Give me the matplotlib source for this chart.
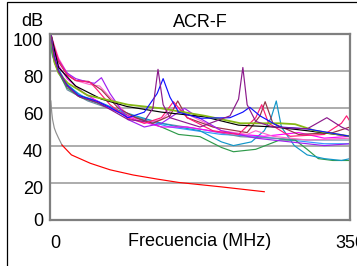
import matplotlib.pyplot as plt
from matplotlib.patches import Rectangle
from matplotlib.transforms import ScaledTranslation

plt.rcParams['font.family'] = ['Liberation Sans', 'DejaVu Sans']

# ACR-F (dB) vs frequency (MHz)
f_grey = [1, 2, 3, 5, 7, 10, 14]
v_grey = [64, 58, 54, 49.5, 47, 44, 40.3]

f_red = [14, 25, 47, 70, 97, 125, 150, 200, 250]
v_red = [40.3, 35, 30.5, 27, 24.2, 22, 20.2, 17.8, 15.2]

f_olive = [1, 5, 10, 21, 44, 91, 130, 181, 222, 268, 286, 309, 350]
v_olive = [100, 85, 79, 73.5, 67, 62, 60, 56, 52, 52, 51.5, 48, 45]

f_black = [1, 10, 30, 60, 90, 130, 180, 220, 262, 300, 350]
v_black = [100, 82, 72, 65, 61, 58, 55.5, 51, 50, 48, 45]

f_blue = [1, 5, 10, 20, 33, 56, 72, 91, 110, 125, 132, 140, 150, 175, 210, 225, 233, 245, 268, 300, 350]
v_blue = [100, 88, 80, 72.5, 67, 63.6, 60, 55, 58, 68, 76, 66, 58, 54.7, 55, 58, 60.6, 56, 50, 49, 45]

f_purple = [1, 5, 10, 20, 33, 56, 72, 91, 110, 120, 126, 132, 140, 175, 210, 220, 225, 230, 240, 260, 300, 323, 340, 350]
v_purple = [100, 87, 80, 72, 66.5, 63, 59, 54, 53, 60, 81, 62, 55, 50, 56, 65, 82, 62, 53, 50, 49, 55, 50, 48]

f_violet = [1, 5, 10, 20, 30, 45, 52, 60, 70, 91, 110, 130, 150, 157, 170, 200, 240, 280, 320, 350]
v_violet = [100, 92, 86, 79, 76, 74, 73.5, 76.5, 68, 54, 50, 52, 58, 60, 56, 48, 44, 42, 40, 41]

f_pink = [1, 5, 10, 20, 30, 40, 47, 55, 70, 90, 110, 130, 144, 160, 190, 220, 240, 247, 255, 280, 320, 340, 346, 350]
v_pink = [100, 93, 86, 78, 75, 74.5, 74, 70, 62, 55, 52, 55, 63.6, 55, 48, 46, 55, 62, 52, 45, 46, 52, 56, 53]

f_rose = [1, 5, 10, 20, 30, 45, 58, 70, 90, 110, 130, 146, 160, 200, 230, 240, 260, 300, 350]
v_rose = [100, 94, 87, 79, 75, 73, 72, 66, 57, 52, 54, 61, 57, 48, 46, 48, 45, 43, 44]

f_brown = [1, 5, 10, 20, 30, 45, 60, 80, 100, 120, 140, 149, 160, 190, 230, 245, 251, 260, 290, 330, 350]
v_brown = [100, 92, 85, 78, 75, 74.5, 70, 60, 55, 52, 56, 64, 55, 50, 47, 56, 63.6, 52, 46, 47, 50]

f_teal = [1, 3, 6, 10, 20, 35, 55, 80, 100, 130, 150, 175, 200, 214, 235, 250, 258, 264, 270, 285, 300, 320, 340, 350]
v_teal = [97, 91, 86, 81, 73, 67, 64, 59, 56, 52, 50, 48, 42, 40, 42, 48, 55, 64, 50, 40, 35, 33, 32, 33]

f_green = [1, 3, 6, 10, 20, 35, 55, 80, 100, 130, 150, 175, 200, 214, 240, 268, 286, 300, 313, 330, 350]
v_green = [95, 89, 84, 79, 71, 66, 63, 58, 55, 50, 46, 44.8, 39, 36.7, 38, 43, 43, 38, 33, 32, 32]

f_slate = [1, 3, 6, 10, 20, 44, 91, 130, 181, 222, 260, 300, 350]
v_slate = [92, 88, 84, 80, 70, 64, 56.5, 52, 48.4, 44.8, 44, 43, 43]

f_sky = [1, 3, 6, 10, 20, 40, 70, 100, 140, 170, 200, 240, 280, 320, 350]
v_sky = [96, 90, 85, 80, 72, 66, 60, 55, 50, 48, 46, 45, 43, 41, 41]

f_magenta = [1, 5, 10, 20, 40, 70, 100, 130, 160, 200, 250, 290, 320, 350]
v_magenta = [100, 90, 83, 76, 68, 60, 54, 50, 50, 47, 45, 47, 44, 45]

series = [
    (f_sky, v_sky, '#3399FF'),
    (f_slate, v_slate, '#6F8AA6'),
    (f_green, v_green, '#2E9A4A'),
    (f_teal, v_teal, '#1196C8'),
    (f_magenta, v_magenta, '#FF00FF'),
    (f_rose, v_rose, '#FF66CC'),
    (f_brown, v_brown, '#993344'),
    (f_violet, v_violet, '#A020F0'),
    (f_pink, v_pink, '#FF1A75'),
    (f_black, v_black, '#000000'),
    (f_olive, v_olive, '#86B814'),
    (f_blue, v_blue, '#1010FF'),
    (f_purple, v_purple, '#8B1A8B'),
    (f_grey, v_grey, '#909090'),
    (f_red, v_red, '#FF0000'),
]

fig = plt.figure(figsize=(3.57, 2.66), dpi=100)
ax = fig.add_axes([50 / 357, 1 - 220 / 266, 300 / 357, 186 / 266])

for fx, vy, c in series:
    lw = 1.3 if c == '#86B814' else 0.85
    ax.plot(fx, vy, color=c, linewidth=lw, solid_joinstyle='round')

ax.set_xlim(0, 350)
ax.set_ylim(0, 100)
ax.set_yticks([0, 20, 40, 60, 80, 100])
ax.set_xticks([0, 350])
ax.yaxis.grid(True, color='#A6A6A6', linewidth=1.3)
ax.set_axisbelow(True)
for side in ['left', 'bottom', 'right', 'top']:
    ax.spines[side].set_color('#7F7F7F')
    ax.spines[side].set_linewidth(1.6)
ax.tick_params(axis='both', length=0, labelsize=13)
ax.tick_params(axis='y', pad=5)
ax.tick_params(axis='x', pad=11)
for lab in ax.get_yticklabels()[1:]:
    lab.set_transform(lab.get_transform() + ScaledTranslation(0, -0.05, fig.dpi_scale_trans))
for lab in ax.get_xticklabels()[:1]:
    lab.set_transform(lab.get_transform() + ScaledTranslation(0.05, 0, fig.dpi_scale_trans))

ax.set_title('ACR-F', fontsize=13, pad=5)
ax.set_xlabel('Frecuencia (MHz)', fontsize=13)
ax.xaxis.set_label_coords(0.5, -0.07)
fig.text(32 / 357, 1 - 21.5 / 266, 'dB', fontsize=13, ha='center', va='center')

fig.patches.append(Rectangle((7 / 357, -0.1), 1.2, 1.1 - 1.5 / 266, transform=fig.transFigure,
                             fill=False, edgecolor='black', linewidth=0.9))

fig.savefig('out.png', dpi=100)
